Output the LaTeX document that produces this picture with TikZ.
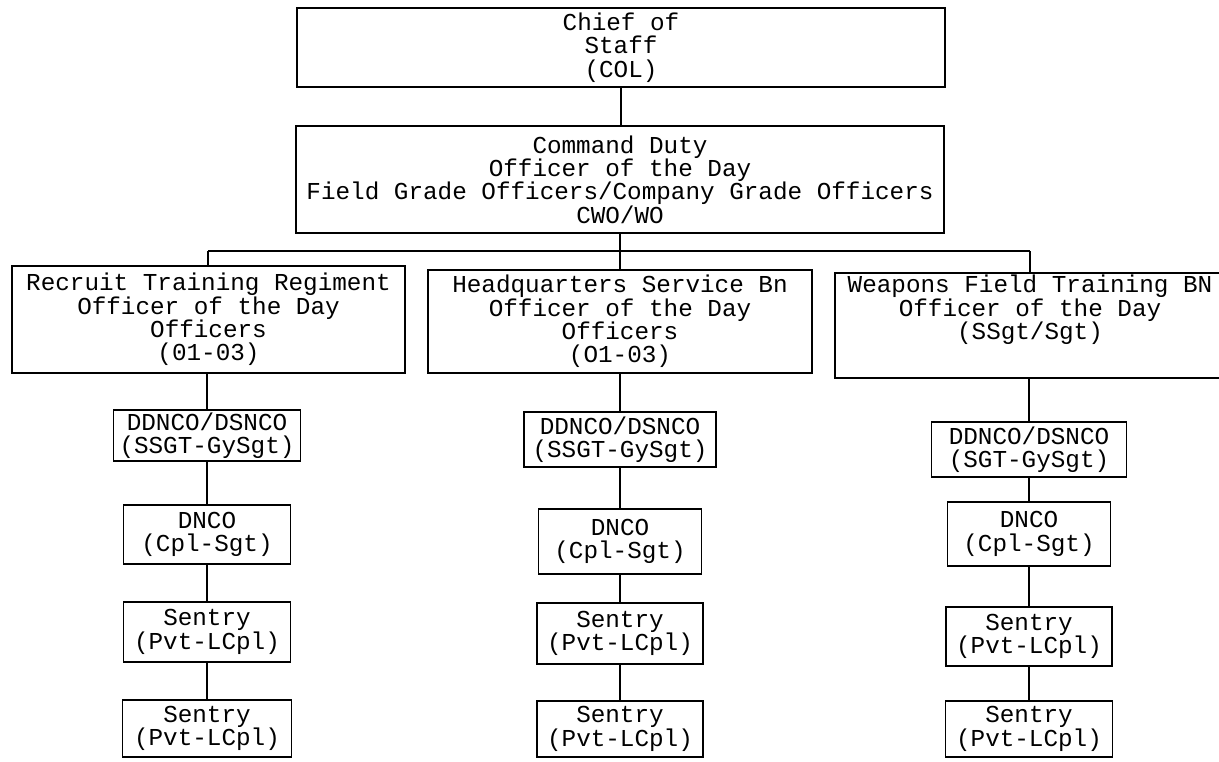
\documentclass[tikz,border=0pt]{standalone}
\usepackage{fontspec}
\setmainfont{Liberation Mono}
\begin{document}
\begin{tikzpicture}[x=1pt,y=-1pt,
  box/.style={draw, line width=1.8pt, inner sep=0pt, align=center,
    font=\fontsize{24.3}{23.3}\selectfont},
  txt/.style={inner sep=0pt, align=center, font=\fontsize{24.3}{23.3}\selectfont},
  lnk/.style={line width=1.8pt}]
\clip (0,0) rectangle (1219,761);
\fill[white] (0,0) rectangle (1219,761);

% top levels
\node[box, minimum width=648pt, minimum height=79pt] (chief) at (621,47.5) {Chief of\\Staff\\(COL)};
\node[box, minimum width=648pt, minimum height=107pt] (cdo) at (620,179.5)
  {Command Duty\\Officer of the Day\\Field Grade Officers/Company Grade Officers\\CWO/WO};

% battalion level
\node[box, minimum width=393pt, minimum height=107pt] (rtr) at (208.5,319.5)
  {Recruit Training Regiment\\Officer of the Day\\Officers\\(01-03)};
\node[box, minimum width=384pt, minimum height=103pt] (hq) at (620,321.5)
  {Headquarters Service Bn\\Officer of the Day\\Officers\\(O1-03)};
\node[box, minimum width=390pt, minimum height=105pt] (wft) at (1030,325.5) {};
\node[txt] (wftt) at (1030,310) {Weapons Field Training BN\\Officer of the Day\\(SSgt/Sgt)};

% column 1
\node[box, minimum width=187pt, minimum height=51pt] (d1) at (207,435.5) {DDNCO/DSNCO\\(SSGT-GySgt)};
\node[box, minimum width=167pt, minimum height=59pt] (n1) at (207,534.5) {DNCO\\(Cpl-Sgt)};
\node[box, minimum width=167pt, minimum height=60pt] (s1) at (207,632) {Sentry\\(Pvt-LCpl)};
\node[box, minimum width=169pt, minimum height=57pt] (s2) at (207,728.5) {Sentry\\(Pvt-LCpl)};

% column 2
\node[box, minimum width=192pt, minimum height=55pt] (d2) at (620,439.5) {DDNCO/DSNCO\\(SSGT-GySgt)};
\node[box, minimum width=163pt, minimum height=65pt] (n2) at (620,541.5) {DNCO\\(Cpl-Sgt)};
\node[box, minimum width=166pt, minimum height=61pt] (s3) at (620,633.5) {Sentry\\(Pvt-LCpl)};
\node[box, minimum width=166pt, minimum height=56pt] (s4) at (620,729) {Sentry\\(Pvt-LCpl)};

% column 3
\node[box, minimum width=195pt, minimum height=55pt] (d3) at (1029,449.5) {DDNCO/DSNCO\\(SGT-GySgt)};
\node[box, minimum width=163pt, minimum height=64pt] (n3) at (1029,534) {DNCO\\(Cpl-Sgt)};
\node[box, minimum width=166pt, minimum height=59pt] (s5) at (1029,636.5) {Sentry\\(Pvt-LCpl)};
\node[box, minimum width=167pt, minimum height=56pt] (s6) at (1029,729) {Sentry\\(Pvt-LCpl)};

% bus
\coordinate (busL) at (208,251);
\coordinate (busM) at (620,251);
\coordinate (busR) at (1030,251);

\draw[lnk] (chief.south) -- (chief.south |- cdo.north);
\draw[lnk] (cdo.south) -- (busM);
\draw[lnk] (busL) -- (busR);
\draw[lnk] (busL) -- (busL |- rtr.north);
\draw[lnk] (busM) -- (hq.north);
\draw[lnk] (busR) -- (wft.north);

\draw[lnk] (d1.north |- rtr.south) -- (d1.north);
\draw[lnk] (d1.south) -- (n1.north);
\draw[lnk] (n1.south) -- (s1.north);
\draw[lnk] (s1.south) -- (s2.north);

\draw[lnk] (hq.south) -- (d2.north);
\draw[lnk] (d2.south) -- (n2.north);
\draw[lnk] (n2.south) -- (s3.north);
\draw[lnk] (s3.south) -- (s4.north);

\draw[lnk] (d3.north |- wft.south) -- (d3.north);
\draw[lnk] (d3.south) -- (n3.north);
\draw[lnk] (n3.south) -- (s5.north);
\draw[lnk] (s5.south) -- (s6.north);
\end{tikzpicture}
\end{document}
